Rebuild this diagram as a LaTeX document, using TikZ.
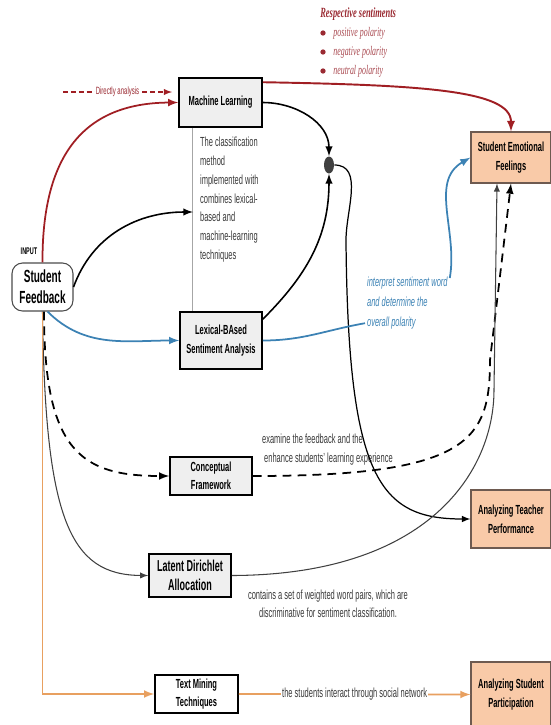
\documentclass[tikz,border=0pt]{standalone}
\usepackage{fontspec}
\setmainfont[FakeStretch=0.57]{Liberation Sans}
\newfontfamily\sentfont[FakeStretch=0.6]{Liberation Serif}
\usetikzlibrary{shapes.geometric}
\definecolor{sentred}{HTML}{9A2A32}
\definecolor{mlred}{HTML}{A01E23}
\definecolor{lexblue}{HTML}{3C82B4}
\definecolor{minorange}{HTML}{E8A060}
\definecolor{peach}{HTML}{F9CAA8}
\definecolor{peachline}{HTML}{6E5A50}
\definecolor{boxgray}{HTML}{EFEFEF}
\definecolor{notegray}{HTML}{3A3A3A}
\definecolor{dotgray}{HTML}{404040}

\begin{document}
\begin{tikzpicture}[x=0.02cm,y=-0.02cm,>=latex,
    box/.style={draw=black,line width=0.9pt,fill=boxgray,inner sep=1pt,align=center,
      font=\fontsize{7.5}{10.5}\selectfont\bfseries},
    goal/.style={draw=peachline,line width=0.6pt,fill=peach,inner sep=1pt,align=center,
      minimum width=1.6cm,font=\fontsize{7.5}{11}\selectfont\bfseries},
    note/.style={inner sep=1pt,align=left,text=notegray,font=\fontsize{7.5}{10.7}\selectfont},
    sentitem/.style={anchor=west,inner sep=0pt,text=sentred!85,font=\sentfont\fontsize{7.5}{9}\selectfont\itshape},
    sentdot/.style={circle,fill=sentred,inner sep=0pt,minimum size=3pt}]
      \useasboundingbox (0,0) rectangle (551,725) ;
      \clip (0,0) rectangle (551,725) ;
      % respective sentiments
      \node[anchor=west,inner sep=0pt,text=sentred,font=\sentfont\fontsize{8}{9}\selectfont\bfseries\itshape] %
      (resp) at (320,14) {Respective sentiments} ;
      \node[sentdot] (b1) at (323,33) {} ;
      \node[sentdot] (b2) at (323,52) {} ;
      \node[sentdot] (b3) at (323,71) {} ;
      \node[sentitem] (pos) at (333,33) {positive polarity} ;
      \node[sentitem] (neg) at (333,52) {negative polarity} ;
      \node[sentitem] (neu) at (333,71) {neutral polarity} ;
      % boxes
      \node[draw=black!70,line width=0.6pt,rounded corners=6pt,fill=white,align=center,inner sep=1pt,%
        minimum width=1.22cm,minimum height=0.96cm,font=\fontsize{10}{12}\selectfont\bfseries] %
      (SF) at (42.5,287) {Student\\Feedback} ;
      \node[font=\fontsize{5.5}{6}\selectfont\bfseries,inner sep=0pt] (inp) at (29,251) {INPUT} ;
      \node[box,minimum width=1.66cm,minimum height=0.98cm] (ML) at (220.5,102.5) {Machine Learning} ;
      \node[box,minimum width=1.64cm,minimum height=1.14cm] (LSA) at (221,340.5) {Lexical-BAsed\\Sentiment Analysis} ;
      \node[box,minimum width=1.64cm,minimum height=0.76cm] (CF) at (211,476) {Conceptual\\Framework} ;
      \node[box,minimum width=1.64cm,minimum height=0.86cm,font=\fontsize{9}{11}\selectfont\bfseries] %
      (LDA) at (190,575.5) {Latent Dirichlet\\Allocation} ;
      \node[box,fill=white,minimum width=1.66cm,minimum height=0.76cm] (TMT) at (196.5,694) {Text Mining\\Techniques} ;
      \node[goal,minimum height=1.02cm] (SEF) at (511,157.5) {Student Emotional\\Feelings} ;
      \node[goal,minimum height=1.16cm] (ATP) at (511,519) {Analyzing Teacher\\Performance} ;
      \node[goal,minimum height=1.3cm] (APS) at (511,694.5) {Analyzing Student\\Participation} ;
      \node[ellipse,fill=dotgray,inner sep=0pt,minimum width=0.2cm,minimum height=0.34cm] (dot) at (329,165) {} ;
      % notes
      \node[note,anchor=north west] (cls) at (198,135) {The classification\\method\\implemented with\\combines lexical-\\based and\\machine-learning\\techniques} ;
      \node[note,anchor=north west,text=lexblue,font=\fontsize{7.5}{11.3}\selectfont\itshape] %
      (polar) at (365,275) {interpret sentiment word\\and determine the\\overall polarity} ;
      \node[note,anchor=north west] (exam) at (260,432) {examine the feedback and the\\\ enhance students' learning experience} ;
      \node[note,align=center,font=\fontsize{7.5}{10.2}\selectfont] (cont) at (328,604) %
      {contains a set of weighted word pairs, which are\\discriminative for sentiment classification.} ;
      % classification column
      \draw[black!35,line width=0.6pt] ([xshift=0.28cm]ML.south west) -- ([xshift=0.26cm]LSA.north west) ;
      \coordinate (clsin) at (193,212) ;
      \draw[line width=0.9pt,->] (SF.east) to[out=70,in=180] (clsin) ;
      % directly analysis
      \coordinate (da1) at (63,92) ;
      \coordinate (da2) at (172,92) ;
      \draw[mlred,line width=0.6pt,dash pattern=on 3pt off 1.5pt,->] (da1) -- %
      node[fill=white,inner sep=0.5pt,text=sentred,font=\fontsize{6}{7}\selectfont] (datext) {Directly analysis} (da2) ;
      % red
      \draw[mlred,line width=1pt,->] (SF.north) .. controls (42,160) and (80,103) .. (ML.west) ;
      \draw[mlred,line width=1.1pt,->] ([yshift=-0.1cm]ML.north east) .. controls (420,85) and (511,90) .. (SEF.north) ;
      % merge point
      \draw[line width=0.9pt,->] (ML.east) to[out=0,in=90] (dot.north) ;
      \draw[line width=0.9pt,->] ([yshift=-0.16cm]LSA.north east) to[out=45,in=-90] (dot.south) ;
      \draw[line width=0.7pt,->] (dot.east) to[out=0,in=90] (346,240) .. controls (348,480) and (380,519) .. (ATP.west) ;
      % blue
      \draw[lexblue,line width=1pt,->] ([xshift=0.1cm]SF.south) to[out=-45,in=180] (LSA.west) ;
      \draw[lexblue,line width=1pt] (LSA.east) to[out=0,in=190] ([yshift=0.16cm]polar.south west) ;
      \draw[lexblue,line width=1pt,->] ([yshift=-0.06cm]polar.north east) to[out=80,in=210] (SEF.west) ;
      % lower branches
      \draw[line width=1pt,dash pattern=on 5pt off 3.5pt,->] ([xshift=0.03cm]SF.south) .. controls (44,450) and (80,476) .. (CF.west) ;
      \draw[line width=1pt,dash pattern=on 5pt off 3.5pt,->] (CF.east) .. controls (470,476) and (490,440) .. (490,360) -- (SEF.south) ;
      \draw[black!75,line width=0.6pt,->] (SF.south) .. controls (45,520) and (70,575) .. (LDA.west) ;
      \draw[black!75,line width=0.6pt,->] (LDA.east) .. controls (430,575) and (494,470) .. (494,390) -- ([xshift=-0.28cm]SEF.south) ;
      % orange
      \draw[minorange,line width=1pt,->] (SF.south) |- (TMT.west) ;
      \draw[minorange,line width=1pt,->] (TMT.east) -- %
      node[fill=white,inner sep=0.5pt,text=notegray,font=\fontsize{7.5}{9}\selectfont] (soc) {the students interact through social network} (APS.west) ;
    \end{tikzpicture}
\end{document}
